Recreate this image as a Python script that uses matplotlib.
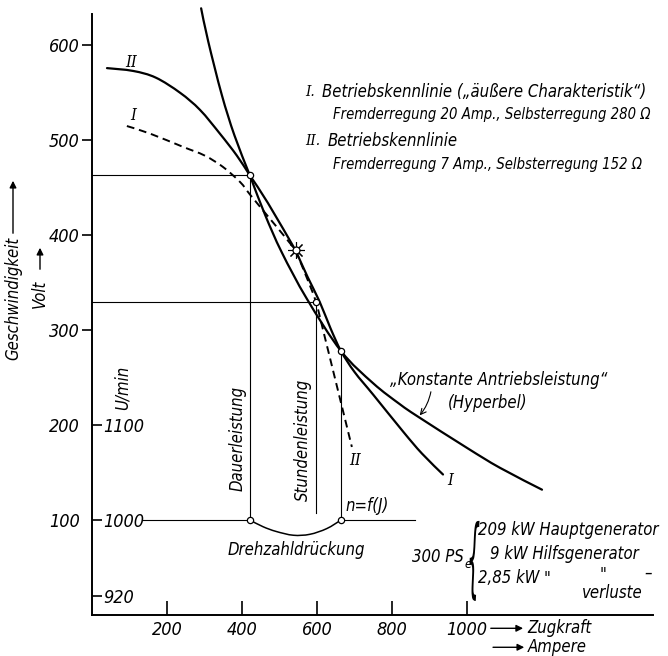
import matplotlib
matplotlib.use("Agg")
import matplotlib.pyplot as plt
from matplotlib.path import Path
from matplotlib.patches import PathPatch, FancyArrowPatch
from matplotlib.textpath import TextPath
from matplotlib.font_manager import FontProperties
from matplotlib.transforms import Affine2D

plt.rcParams['font.family'] = ['DejaVu Sans']
plt.rcParams['font.stretch'] = 'condensed'
plt.rcParams['font.style'] = 'italic'

# Zugkraft (Ampere) / Volt readings
hyp_i = [291, 310, 346, 380, 421, 461, 506, 573, 664, 750, 821, 869, 1000, 1088, 1200]
hyp_v = [639, 604, 548, 505, 463, 422, 382, 333, 278, 244, 222, 209, 176, 155, 132]

ii_solid_i = [40, 110, 170, 235, 288, 341, 386, 421, 469, 543]
ii_solid_v = [576, 573, 566, 550, 532, 507, 484, 463, 434, 384]
ii_dash_i = [543, 572, 597, 620, 645, 693]
ii_dash_v = [384, 356, 330, 294, 254, 177]

i_dash_i = [93, 155, 243, 300, 349, 395, 421, 469, 515, 543]
i_dash_v = [515, 507, 493, 484, 472, 456, 443, 420, 398, 384]
i_solid_i = [543, 575, 607, 636, 664, 700, 750, 830, 880, 936]
i_solid_v = [384, 356, 330, 302, 278, 256, 232, 193, 170, 148]

# Drehzahldrueckung n=f(J)
arc_i = [421, 456, 491, 537, 581, 626, 664]
arc_v = [100, 93, 88, 84, 85, 91, 100]

dauer_i, stunden_i, knick_i = 421, 597, 664
dauer_v, stunden_v, knick_v = 463, 330, 278
star_i, star_v = 543, 384
v_1000 = 100

volt_ticks = [100, 200, 300, 400, 500, 600]
rpm_ticks = [920, 1000, 1100]
amp_ticks = [200, 400, 600, 800, 1000]


def curve(ax, xs, ys, dashed=False, lw=1.6, clip=True):
    # smooth drawing through the read points (Catmull-Rom as Bezier)
    pts = list(zip(xs, ys))
    verts = [pts[0]]
    codes = [Path.MOVETO]
    for k in range(len(pts) - 1):
        p0 = pts[k - 1] if k > 0 else pts[k]
        p1, p2 = pts[k], pts[k + 1]
        p3 = pts[k + 2] if k + 2 < len(pts) else pts[k + 1]
        c1 = (p1[0] + (p2[0] - p0[0]) / 6, p1[1] + (p2[1] - p0[1]) / 6)
        c2 = (p2[0] - (p3[0] - p1[0]) / 6, p2[1] - (p3[1] - p1[1]) / 6)
        verts += [c1, c2, p2]
        codes += [Path.CURVE4] * 3
    patch = PathPatch(Path(verts, codes), fill=False, edgecolor='black', lw=lw,
                      transform=ax.transData, clip_on=clip, capstyle='round')
    if dashed:
        patch.set_linestyle((0, (4, 2.5)))
        patch.set_capstyle('butt')
    ax.add_patch(patch)


fig = plt.figure(figsize=(6.68, 6.56), dpi=100)
ax = fig.add_axes([92 / 668, 41 / 656, 561 / 668, 601 / 656])
ax.set_xlim(0, 1496)
ax.set_ylim(0, 633)
for s in ['top', 'right']:
    ax.spines[s].set_visible(False)
for s in ['left', 'bottom']:
    ax.spines[s].set_linewidth(1.4)

thin = dict(color='black', lw=0.8)

curve(ax, hyp_i, hyp_v, clip=False)
curve(ax, ii_solid_i, ii_solid_v)
curve(ax, ii_dash_i, ii_dash_v, dashed=True, lw=1.4)
curve(ax, i_dash_i, i_dash_v, dashed=True, lw=1.4)
curve(ax, i_solid_i, i_solid_v)
curve(ax, arc_i, arc_v, lw=1.1)

# Hilfslinien
ax.plot([0, dauer_i], [dauer_v, dauer_v], **thin)
ax.plot([0, stunden_i], [stunden_v, stunden_v], **thin)
ax.plot([dauer_i, dauer_i], [dauer_v, v_1000], **thin)
ax.plot([stunden_i, stunden_i], [stunden_v, 107], **thin)
ax.plot([knick_i, knick_i], [knick_v, v_1000], **thin)
ax.plot([136, dauer_i], [v_1000, v_1000], **thin)
ax.plot([knick_i, 861], [v_1000, v_1000], **thin)

pts_i = [dauer_i, stunden_i, knick_i, dauer_i, knick_i]
pts_v = [dauer_v, stunden_v, knick_v, v_1000, v_1000]
ax.plot(pts_i, pts_v, 'o', ms=4.5, mfc='white', mec='black', mew=0.9)
ax.plot([star_i], [star_v], marker=(8, 2, 0), ms=12, color='black', mew=0.8)
ax.plot([star_i], [star_v], 'o', ms=5, mfc='white', mec='black', mew=0.9)

# Achsen
ax.set_xticks(amp_ticks)
ax.tick_params(axis='x', direction='in', length=10, width=1.2, pad=4, labelsize=13)
ax.set_yticks(volt_ticks)
ax.tick_params(axis='y', direction='out', length=7, width=1.2, pad=2, labelsize=13)
for t, v in zip(ax.yaxis.get_major_ticks(), volt_ticks):
    if v < 300:
        t.tick1line.set_visible(False)

sec = ax.secondary_yaxis(0, functions=(lambda v: v + 900, lambda n: n - 900))
sec.set_yticks(rpm_ticks)
sec.yaxis.set_ticks_position('right')
sec.tick_params(direction='out', length=7, width=1.2, pad=1, labelsize=13)
sec.spines['right'].set_visible(False)
sec.spines['left'].set_visible(False)

# Beschriftungen
serif = ['DejaVu Serif']
fs = 12
ax.text(104, 582, 'II', family=serif, fontsize=12, ha='center', va='center')
ax.text(109, 526, 'I', family=serif, fontsize=12, ha='center', va='center')
ax.text(701, 163, 'II', family=serif, fontsize=12, ha='center', va='center')
ax.text(955, 142, 'I', family=serif, fontsize=12, ha='center', va='center')

ax.text(568, 551, 'I.', family=serif, fontsize=11, ha='left', va='center')
ax.text(613, 551, 'Betriebskennlinie („äußere Charakteristik“)', fontsize=fs, va='center')
ax.text(643, 527, 'Fremderregung 20 Amp., Selbsterregung 280 Ω', fontsize=10.6, va='center')
ax.text(568, 499, 'II.', family=serif, fontsize=11, ha='left', va='center')
ax.text(627, 499, 'Betriebskennlinie', fontsize=fs, va='center')
ax.text(643, 474, 'Fremderregung 7 Amp., Selbsterregung 152 Ω', fontsize=10.6, va='center')

ax.text(389, 186, 'Dauerleistung', rotation=90, fontsize=fs, ha='center', va='center')
ax.text(563, 184, 'Stundenleistung', rotation=90, fontsize=fs, ha='center', va='center')
ax.text(83, 239, 'U/min', rotation=90, fontsize=fs, ha='center', va='center')
ax.text(544, 68, 'Drehzahldrückung', fontsize=fs, ha='center', va='center')
ax.text(675, 115, 'n=f(J)', fontsize=fs, ha='left', va='center')

ax.text(795, 247, '„Konstante Antriebsleistung“', fontsize=fs, ha='left', va='center')
ax.text(949, 223, '(Hyperbel)', fontsize=fs, ha='left', va='center')
ax.annotate('', xy=(869, 208), xytext=(905, 238),
            arrowprops=dict(arrowstyle='->', color='black', lw=0.8,
                            connectionstyle='arc3,rad=-0.15'))

ax.text(990, 61, '300 PS', fontsize=fs, ha='right', va='center')
ax.text(993, 53, 'e', fontsize=9, ha='left', va='center')

# schlanke geschweifte Klammer
fig.canvas.draw()
tp = TextPath((0, 0), '{', size=40, prop=FontProperties(family='DejaVu Sans', weight='light'))
ext = tp.get_extents()
bx, by = ax.transData.transform((1020, 57))
sy = 80 / ext.height
sx = 10 / ext.width
brace_tr = Affine2D().translate(-(ext.x0 + ext.width / 2), -(ext.y0 + ext.height / 2)) \
    .scale(sx, sy).translate(bx, by)
ax.add_patch(PathPatch(tp, transform=brace_tr, facecolor='black', edgecolor='none', clip_on=False))

ax.text(1029, 89, '209 kW Hauptgenerator', fontsize=fs, va='center')
ax.text(1061, 64, '9 kW Hilfsgenerator', fontsize=fs, va='center')
ax.text(1029, 39, '2,85 kW', fontsize=fs, va='center')
ax.text(1213, 38, '"', fontsize=fs, ha='center', va='center')
ax.text(1363, 42, '"', fontsize=fs, ha='center', va='center')
ax.text(1483, 45, '–', fontsize=fs, ha='center', va='center')
ax.text(1469, 23, 'verluste', fontsize=fs, ha='right', va='center')

ax.annotate('', xy=(1157, -14), xytext=(1056, -14), annotation_clip=False,
            arrowprops=dict(arrowstyle='-|>', color='black', lw=1.0, mutation_scale=10))
ax.text(1160, -14, 'Zugkraft', fontsize=fs, ha='left', va='center', clip_on=False)
ax.annotate('', xy=(1160, -34), xytext=(1062, -34), annotation_clip=False,
            arrowprops=dict(arrowstyle='-|>', color='black', lw=1.0, mutation_scale=10))
ax.text(1163, -34, 'Ampere', fontsize=fs, ha='left', va='center', clip_on=False)

# y-Achsentitel
fig.text(13 / 668, 1 - 298 / 656, 'Geschwindigkeit', rotation=90, fontsize=fs,
         ha='center', va='center')
fig.add_artist(FancyArrowPatch((13 / 668, 1 - 236 / 656), (13 / 668, 1 - 178 / 656),
               transform=fig.transFigure, arrowstyle='-|>', mutation_scale=10, color='black', lw=1.0))
fig.text(40 / 668, 1 - 294 / 656, 'Volt', rotation=90, fontsize=fs, ha='center', va='center')
fig.add_artist(FancyArrowPatch((40 / 668, 1 - 272 / 656), (40 / 668, 1 - 245 / 656),
               transform=fig.transFigure, arrowstyle='-|>', mutation_scale=10, color='black', lw=1.0))

fig.savefig('out.png', dpi=100)
